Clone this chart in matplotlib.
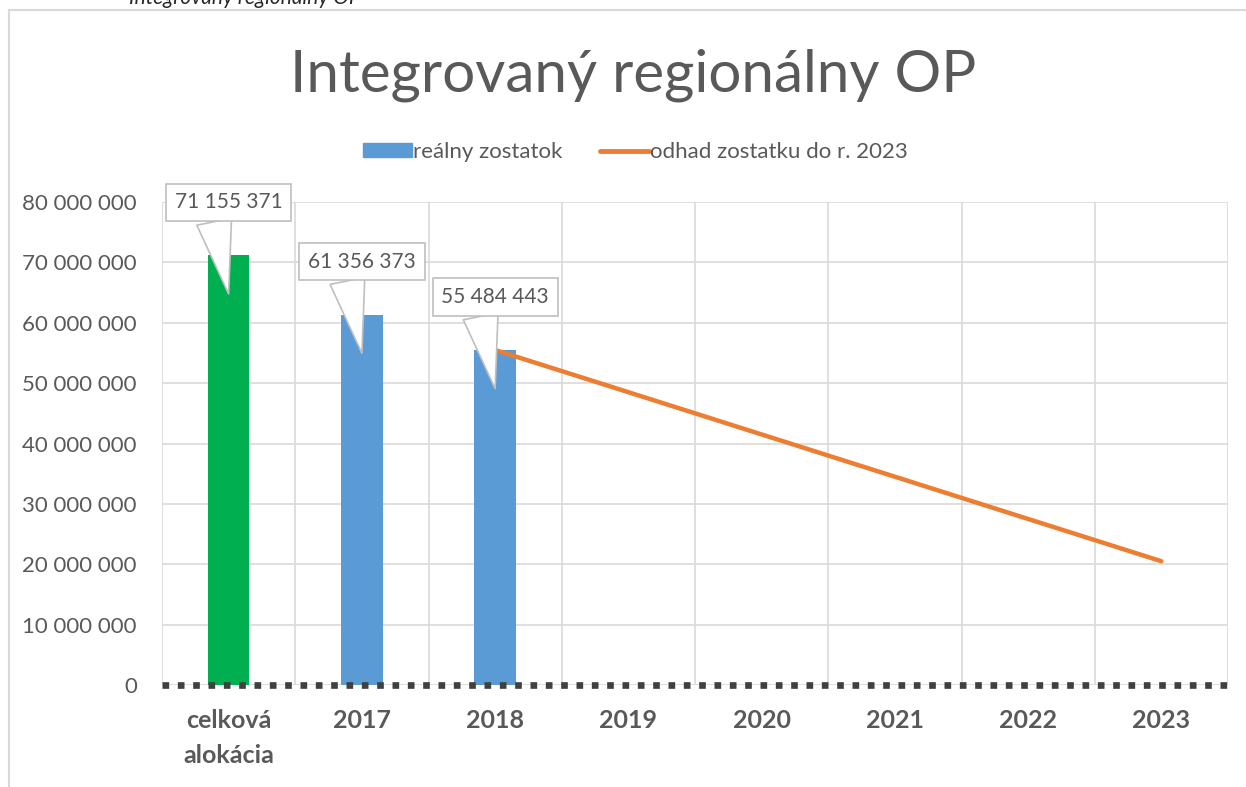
import numpy as np
import matplotlib.pyplot as plt
from matplotlib.lines import Line2D
from matplotlib.patches import Patch

# data
categories = ["celková\nalokácia", "2017", "2018", "2019", "2020", "2021", "2022", "2023"]
bar_values = [71155371, 61356373, 55484443]
bar_labels = ["71 155 371", "61 356 373", "55 484 443"]
bar_colors = ["#00B050", "#5B9BD5", "#5B9BD5"]
line_cats = [2, 3, 4, 5, 6, 7]
line_values = [55484443, 48500000, 41500000, 34500000, 27500000, 20500000]
yticks = np.arange(0, 80000001, 10000000)

plt.rcParams['font.family'] = ['Lato', 'DejaVu Sans']
GRAY = "#595959"
GRID = "#D9D9D9"

W, H = 1246, 787
fig = plt.figure(figsize=(W / 100, H / 100), dpi=100)
ax = fig.add_axes([162 / W, 1 - 685 / H, (1228 - 162) / W, (685 - 202) / H])

x = np.arange(len(categories))
ax.bar(x[:len(bar_values)], bar_values, width=0.31, color=bar_colors, zorder=2)
ax.plot(line_cats, line_values, color="#ED7D31", lw=3.2, solid_capstyle="round", zorder=3)

# callouts
for i, (v, lab) in enumerate(zip(bar_values, bar_labels)):
    ax.annotate(lab, xy=(i, v - 6.4e6), xytext=(0, 66), textcoords="offset points",
                ha="center", va="center", fontsize=15, color=GRAY, zorder=5,
                bbox=dict(boxstyle="square,pad=0.42", fc="white", ec="#BFBFBF", lw=1.2),
                arrowprops=dict(arrowstyle="wedge,tail_width=1.7", fc="white", ec="#BFBFBF",
                                lw=1.2, shrinkA=0, shrinkB=0, relpos=(0.33, 0.5)))

ax.set_xlim(-0.5, len(categories) - 0.5)
ax.set_ylim(0, 80000000)
ax.set_yticks(yticks)
ax.set_yticklabels([f"{int(t):,}".replace(",", " ") for t in yticks], fontsize=16, color=GRAY)
ax.set_xticks(x)
ax.set_xticklabels(categories, fontsize=18, fontweight="bold", color=GRAY, linespacing=1.65)
ax.set_xticks(np.arange(-0.5, len(categories)), minor=True)
ax.tick_params(axis="both", which="both", length=0)
ax.tick_params(axis="y", pad=18)
ax.tick_params(axis="x", pad=17)
ax.grid(axis="y", color=GRID, lw=1.2, zorder=0)
ax.grid(axis="x", which="minor", color=GRID, lw=1.2, zorder=0)
for s in ax.spines.values():
    s.set_visible(False)
ax.axhline(0, color="#404040", lw=4.8, linestyle=(0, (1, 1.3)), dash_capstyle="butt",
           zorder=4, clip_on=False)

fig.text(0.508, 1 - 75 / H, "Integrovaný regionálny OP", ha="center", va="center",
         fontsize=42, color=GRAY)

handles = [Patch(color="#5B9BD5"), Line2D([], [], color="#ED7D31", lw=3.5, solid_capstyle="round")]
fig.legend(handles, ["reálny zostatok", "odhad zostatku do r. 2023"], loc="center",
           bbox_to_anchor=(0.51, 1 - 152 / H), ncol=2, frameon=False, fontsize=16,
           labelcolor=GRAY, handlelength=2.2, handleheight=0.55, handletextpad=0.05,
           columnspacing=1.7)

# chart frame and cut-off caption
fig.add_artist(Line2D([9 / W, 1], [1 - 10 / H] * 2, color=GRID, lw=1.5))
fig.add_artist(Line2D([9 / W] * 2, [0, 1 - 10 / H], color=GRID, lw=1.5))
fig.text(245 / W, 1 - 4 / H, "Integrovaný regionálny OP", ha="center", va="baseline",
         fontsize=15, style="italic", color="#262626")

fig.savefig("out.png", dpi=100)
